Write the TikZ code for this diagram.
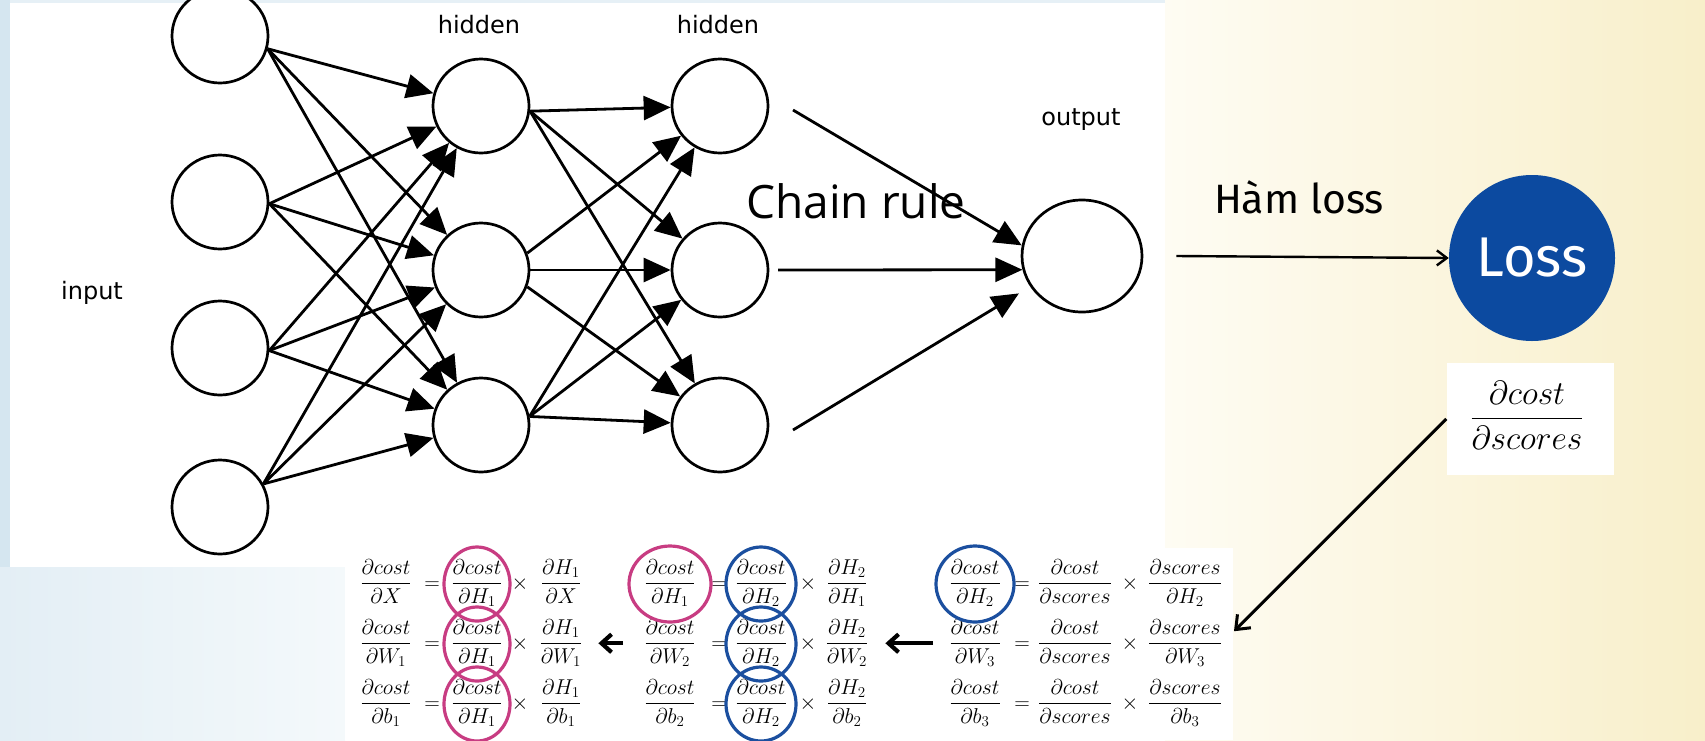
\RequirePackage{fix-cm}
\documentclass[tikz,border=0pt]{standalone}
\usepackage{amsmath}
\usepackage{fontspec}
\usetikzlibrary{arrows.meta,shapes.geometric,calc}
\newfontfamily\lblfont{DejaVu Sans}
\newfontfamily\chainfont{Open Sans}
\newfontfamily\firafont{Fira Sans}
\definecolor{lossblue}{HTML}{0C4AA0}
\definecolor{ringpink}{HTML}{C83C82}
\definecolor{ringblue}{HTML}{1B4F9F}
\definecolor{creamL}{HTML}{FEFCF3}
\definecolor{creamR}{HTML}{F8EFCA}
\definecolor{palebl}{HTML}{E3EEF5}
\definecolor{palebr}{HTML}{F4F9FB}
\definecolor{stripbl}{HTML}{D5E6F0}
\begin{document}
\begin{tikzpicture}[x=1pt,y=-1pt,
  neuron/.style={draw,ellipse,line width=2.7pt,fill=white,inner sep=0pt,minimum width=96pt,minimum height=94pt},
  netarrow/.style={line width=2.8pt,-{Triangle[length=27pt,width=24pt]}},
  lbl/.style={font=\lblfont\fontsize{24}{28}\selectfont,anchor=base,inner sep=0pt},
  fr/.style={font=\fontsize{21.5}{26}\selectfont,anchor=base,inner sep=0pt},
  pinkring/.style={draw=ringpink,line width=3.2pt},
  bluering/.style={draw=ringblue,line width=3.2pt},
  lossarrow/.style={line width=2.4pt,-{Straight Barb[length=10pt,width=15pt]}},
  diagarrow/.style={line width=3pt,-{Straight Barb[length=12pt,width=19pt]}},
  fatarrow/.style={line width=4.2pt,-{Straight Barb[length=10pt,width=18pt]}},
]
\useasboundingbox (0,0) rectangle (1705,740);
% background
\fill[white] (0,0) rectangle (1705,740);
\shade[left color=creamL,right color=creamR] (1165,0) rectangle (1705,740);
\shade[left color=palebl,right color=palebr] (0,567) rectangle (345,740);
\fill[stripbl] (0,0) rectangle (10,567);
\fill[stripbl!60] (10,0) rectangle (1165,3);
\fill[white] (345,548) rectangle (1233,740);

% neurons
\node[neuron] (in1) at (220,36) {};
\node[neuron] (in2) at (220,202) {};
\node[neuron] (in3) at (220,348) {};
\node[neuron] (in4) at (220,507) {};
\node[neuron] (ha1) at (481,106) {};
\node[neuron] (ha2) at (481,270) {};
\node[neuron] (ha3) at (481,425) {};
\node[neuron] (hb1) at (720,106) {};
\node[neuron] (hb2) at (720,270) {};
\node[neuron] (hb3) at (720,425) {};
\node[neuron,minimum width=120pt,minimum height=112pt] (out) at (1082,256) {};

% labels
\node[lbl] (tin) at (92,299) {input};
\node[lbl] (th1) at (479,33) {hidden};
\node[lbl] (th2) at (718,33) {hidden};
\node[lbl] (tout) at (1081,125) {output};
\node[font=\chainfont\fontsize{46}{50}\selectfont,anchor=base,inner sep=0pt] (chain) at (856,218) {Chain rule};
\node[font=\firafont\fontsize{41}{46}\selectfont,anchor=base,inner sep=0pt] (ham) at (1299,213) {Hàm loss};
\node[circle,fill=lossblue,minimum size=166pt,inner sep=0pt,text=white,font=\firafont\fontsize{56}{60}\selectfont] (loss) at (1532,258) {Loss};

% input -> hidden 1
\foreach \i/\a in {1/-15,2/-2,3/-3,4/28}
  \foreach \j in {1,2,3}
    \draw[netarrow] (in\i.\a) -- (ha\j);
% hidden 1 -> hidden 2
\foreach \j in {1,2,3} \draw[netarrow] (ha1.-6) -- (hb\j);
\draw[netarrow] (ha2.20) -- (hb1);
\draw[netarrow] (ha2.0) -- (hb2);
\draw[netarrow] (ha2.-20) -- (hb3);
\foreach \j in {1,2,3} \draw[netarrow] (ha3.10) -- (hb\j);
% hidden 2 -> output
\coordinate (s1) at (793,110);
\coordinate (s2) at (778,270);
\coordinate (s3) at (793,430);
\draw[netarrow] (s1) -- (out.170);
\draw[netarrow] (s2) -- (out.193);
\draw[netarrow] (s3) -- ($(out.215)+(-14,3)$);
% output -> loss
\draw[lossarrow] ($(out.east)+(33,0)$) -- (loss.west);

% d cost / d scores
\node[fill=white,minimum width=167pt,minimum height=112pt,inner sep=0pt] (fbox) at (1530,419) {};
\node[font=\fontsize{33.5}{40}\selectfont,anchor=base,inner sep=0pt] (fscore) at (1527,427) {$\dfrac{\partial cost}{\partial scores}$};

% block 1
\foreach \r/\y/\den in {1/589/X,2/649/W_1,3/709/b_1}{
  \node[fr] (pa\r) at (386,\y) {$\dfrac{\partial cost}{\partial \den}$};
  \node[fr] (qa\r) at (432,\y) {$=$};
  \node[fr] (ca\r) at (477,\y) {$\dfrac{\partial cost}{\partial H_1}$};
  \node[fr] (ma\r) at (520,\y) {$\times$};
  \node[fr] (da\r) at (561,\y) {$\dfrac{\partial H_1}{\partial \den}$};
}
% block 2
\foreach \r/\y/\den in {1/589/H_1,2/649/W_2,3/709/b_2}{
  \node[fr] (pb\r) at (670,\y) {$\dfrac{\partial cost}{\partial \den}$};
  \node[fr] (qb\r) at (719,\y) {$=$};
  \node[fr] (cb\r) at (761,\y) {$\dfrac{\partial cost}{\partial H_2}$};
  \node[fr] (mb\r) at (808,\y) {$\times$};
  \node[fr] (db\r) at (847,\y) {$\dfrac{\partial H_2}{\partial \den}$};
}
% block 3
\foreach \r/\y/\den in {1/589/H_2,2/649/W_3,3/709/b_3}{
  \node[fr] (pc\r) at (975,\y) {$\dfrac{\partial cost}{\partial \den}$};
  \node[fr] (qc\r) at (1022,\y) {$=$};
  \node[fr] (cc\r) at (1075,\y) {$\dfrac{\partial cost}{\partial scores}$};
  \node[fr] (mc\r) at (1130,\y) {$\times$};
  \node[fr] (dc\r) at (1185,\y) {$\dfrac{\partial scores}{\partial \den}$};
}
% rings
\foreach \r/\yy in {1/584,2/644,3/704}{
  \draw[pinkring] (477,\yy) ellipse[x radius=33,y radius=37];
  \draw[bluering] (761,\yy) ellipse[x radius=35,y radius=37];
}
\draw[pinkring] (670,584) ellipse[x radius=41,y radius=38];
\draw[bluering] (975,584) ellipse[x radius=39,y radius=38];

% backward arrows
\draw[diagarrow,shorten >=17pt] (fbox.west) -- (dc2.east);
\draw[fatarrow,shorten <=16pt,shorten >=17pt] (pc2.west) -- (db2.east);
\draw[fatarrow,shorten <=21pt,shorten >=16pt] (pb2.west) -- (da2.east);
\end{tikzpicture}
\end{document}
